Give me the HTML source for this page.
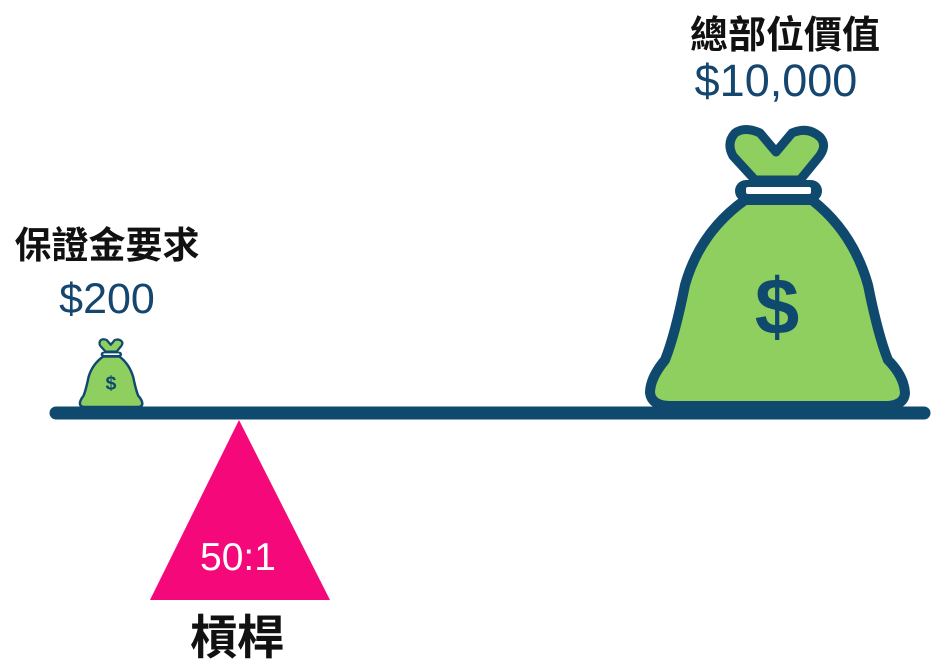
<!DOCTYPE html>
<html><head><meta charset="utf-8"><style>
html,body{margin:0;padding:0;background:#fff;}
body{width:948px;height:668px;overflow:hidden;position:relative;}
</style></head><body>
<svg width="948" height="668" viewBox="0 0 948 668" xmlns="http://www.w3.org/2000/svg" style="position:absolute;left:0;top:0">
<defs>
<g id="bag">
  <path d="M735,133 Q745,126 760,133 L776,152 L792,133 Q808,126 820,137 Q828,146 818,158 L800,180 L755,180 L733,156 Q726,143 735,133 Z" fill="#8fcf5f" stroke="#0f4a6e" stroke-width="9" stroke-linejoin="round"/>
  <path d="M745,200 Q700,232 685,285 Q675,335 665,360 Q650,378 650,393 Q652,406 670,406 L885,406 Q904,406 905,393 Q904,376 888,360 Q878,335 868,285 Q853,232 812,200 Z" fill="#8fcf5f" stroke="#0f4a6e" stroke-width="10" stroke-linejoin="round"/>
  <rect x="735" y="180" width="87" height="22" rx="11" fill="#0f4a6e"/>
  <rect x="746" y="187" width="65" height="7" rx="2" fill="#fff"/>
  <text x="777" y="334" font-family="Liberation Sans, sans-serif" font-weight="bold" font-size="80" fill="#0f4a6e" text-anchor="middle">$</text>
</g>
</defs>
<use href="#bag"/>
<g transform="translate(111,407) scale(0.245) translate(-777,-406)">
  <use href="#bag"/>
</g>
<line x1="56" y1="413" x2="924" y2="413" stroke="#0f4a6e" stroke-width="13" stroke-linecap="round"/>
<polygon points="239,420 150,600 330,600" fill="#f5087a"/>
<text x="238" y="570" font-family="Liberation Sans, sans-serif" font-size="39" fill="#fff" text-anchor="middle">50:1</text>
<text x="237" y="654" font-family="'Liberation Sans','Noto Sans CJK TC',sans-serif" font-weight="bold" font-size="47" fill="#111" text-anchor="middle">槓桿</text>
<text x="107" y="258" font-family="'Liberation Sans','Noto Sans CJK TC',sans-serif" font-weight="bold" font-size="37" fill="#111" text-anchor="middle">保證金要求</text>
<text x="107" y="313" font-family="Liberation Sans, sans-serif" font-size="43" fill="#14466f" text-anchor="middle">$200</text>
<text x="785" y="48" font-family="'Liberation Sans','Noto Sans CJK TC',sans-serif" font-weight="bold" font-size="38" fill="#111" text-anchor="middle">總部位價值</text>
<text x="776" y="96" font-family="Liberation Sans, sans-serif" font-size="45" fill="#14466f" text-anchor="middle">$10,000</text>
</svg>
</body></html>
